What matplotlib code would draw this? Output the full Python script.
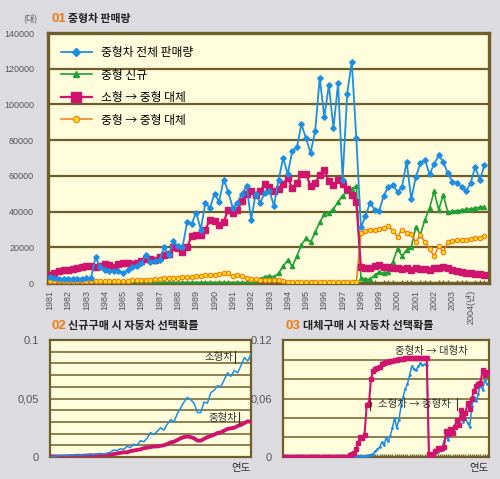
import matplotlib.pyplot as plt
import numpy as np

plt.rcParams['font.family'] = ['Noto Sans CJK KR', 'DejaVu Sans']

# 01 중형차 판매량 - quarterly, 1981 Q1 ~ 2004 Q4 (unit: 대)
total_sales = [
    3500, 2800, 2500, 2500, 2500, 2500, 2500, 2500, 3000, 3000, 14500, 9000,
    7500, 7000, 6500, 7000, 5500, 7500, 9000, 9500, 11000, 15500, 12000, 12500,
    13000, 20000, 15500, 23500, 20500, 20000, 34000, 33300, 39500, 30000, 45000, 42000,
    50000, 45500, 58000, 51000, 42000, 45000, 50000, 54500, 35500, 50000, 45000, 50700,
    51500, 43300, 57800, 70000, 61000, 74000, 76000, 89000, 81000, 73000, 85000, 115000,
    93000, 111000, 86600, 112000, 58000, 106000, 124000, 81000, 31300, 37400, 45000, 41000,
    40500, 49000, 54000, 55000, 51000, 54000, 68000, 47000, 59500, 67000, 69000, 61000,
    66500, 71500, 68000, 61500, 56700, 56000, 54000, 51300, 56300, 65000, 57600, 66000,
]
new_mid = [
    300, 300, 300, 300, 300, 300, 300, 300, 300, 300, 300, 300,
    300, 300, 300, 300, 300, 300, 300, 300, 300, 300, 300, 300,
    300, 300, 300, 300, 300, 300, 300, 300, 300, 300, 300, 300,
    300, 300, 300, 300, 300, 300, 300, 300, 300, 300, 2500, 3500,
    4000, 3500, 5500, 9500, 12800, 9500, 15000, 21500, 25000, 23000, 28500, 34000,
    38700, 39500, 41500, 45500, 49000, 51500, 52600, 54400, 3000, 2200, 2200, 4300,
    6300, 5400, 6300, 12000, 19300, 15000, 18600, 20000, 31300, 27200, 35500, 42000,
    51300, 41000, 49400, 39600, 40200, 40500, 40800, 41300, 41600, 42000, 42400, 42800,
]
small_to_mid = [
    4500, 5800, 6500, 7200, 7500, 7800, 8200, 8800, 9500, 9500, 8800, 9800,
    10500, 10000, 9000, 10500, 11000, 11500, 10500, 11000, 12500, 13500, 13500, 13000,
    14500, 16000, 16200, 20000, 19800, 17500, 20000, 26300, 27000, 27000, 30000, 35400,
    35000, 32800, 34300, 41000, 39300, 41000, 46000, 50000, 51300, 49500, 51300, 55700,
    54000, 51300, 52800, 55700, 58700, 53500, 56000, 61000, 61000, 54400, 56000, 60500,
    63300, 57000, 54800, 57500, 55700, 52600, 49400, 45200, 9000, 8600, 8600, 9600,
    10000, 9000, 8800, 8700, 8200, 7800, 8700, 7500, 8500, 8000, 7800, 7500,
    8500, 8500, 9000, 8200, 7200, 6800, 6300, 5900, 5400, 5300, 4900, 4600,
]
mid_to_mid = [
    1200, 1200, 1200, 1200, 1200, 1200, 1200, 1200, 1200, 1200, 1200, 1200,
    1200, 1200, 1200, 1200, 1300, 1300, 1800, 1800, 1800, 2000, 2000, 2200,
    2500, 2800, 2800, 3000, 3000, 3200, 3500, 3600, 4000, 4200, 4400, 4400,
    4500, 5000, 5400, 5500, 3800, 4500, 3800, 2800, 2200, 2200, 2000, 2000,
    1900, 1800, 1500, 1300, 800, 800, 800, 800, 800, 800, 800, 800,
    800, 800, 800, 800, 800, 800, 800, 800, 28000, 29400, 30000, 29800,
    30400, 31000, 31700, 29400, 26000, 30000, 28000, 27400, 23000, 26700, 23000, 19300,
    15000, 21000, 17400, 23000, 23500, 24000, 24200, 24400, 24800, 25000, 25200, 26300,
]
year_labels = [str(y) for y in range(1981, 2004)] + ['2004(년)']

# 02 신규구매 시 자동차 선택확률 (x 0.001)
new_small_p = [
    0, 0.5, 1, 1, 1.5, 1, 1.5, 1.5, 2, 1.5, 2, 2, 2.5, 2, 2.5, 3, 2.5, 3, 4, 6,
    5.5, 7, 6.5, 9, 8, 11, 10, 14, 13, 16, 21, 19, 22, 25, 23, 28, 32, 30, 37, 42,
    47, 51, 49, 46, 38, 38, 47, 46, 55, 57, 61, 60, 66, 72, 69, 74, 72, 78, 85, 82, 88,
]
new_mid_p = [
    0.5, 0.5, 0.5, 0.5, 0.5, 0.5, 0.7, 0.8, 1, 1, 1, 1.2, 1.2, 1.3, 1.5, 1.5, 1.5, 2, 2, 2.5,
    3, 3.5, 4, 4, 5, 5.5, 6, 6.5, 7.5, 8, 8.5, 9, 9, 9.5, 10, 11, 12.5, 13, 14.5, 16,
    17, 17.5, 17, 16, 14, 14, 15.5, 17, 18, 19, 20.5, 21, 22.5, 24, 24.5, 25, 26.5, 27.5, 29, 30.5, 30,
]

# 03 대체구매 시 자동차 선택확률 - quarterly (x 0.001)
rep_mid_large = [
    0, 0, 0, 0, 0, 0, 0, 0, 0, 0, 0, 0, 0, 0, 0, 0, 0, 0, 0, 0, 0, 0, 0, 0,
    0, 0, 0, 0, 0, 0, 0, 2, 3, 4, 8, 14, 21, 19, 23, 53, 54, 80, 88, 90, 91, 92, 95, 96,
    97, 98, 98.5, 99, 99.5, 100, 100.5, 101, 101, 101.5, 101.5, 101.5, 101.5, 101.5, 101.5, 101.5, 101.5, 101.5, 101.5, 101.5,
    3, 1, 3, 6, 9.6, 8, 9, 10, 27, 24, 29, 25, 31, 38, 33, 48, 40, 45, 55, 49, 60, 68, 73, 75, 76, 89, 84, 87,
]
rep_small_mid = [
    0, 0, 0, 0, 0, 0, 0, 0, 0, 0, 0, 0, 0, 0, 0, 0, 0, 0, 0, 0, 0, 0, 0, 0,
    0, 0, 0, 0, 0, 0, 0, 0, 0.3, 0.5, 0.5, 0.7, 0.8, 1, 1.2, 1.5, 1.7, 2.5, 3.4, 6, 8, 10, 15, 12,
    19, 16, 22, 30, 40, 30, 38, 52, 62, 70, 75, 84, 93, 90, 89, 93, 96, 94, 95, 94,
    2, 1.5, 2.5, 3.5, 5, 7, 9, 16, 21, 17, 24, 28, 31, 38, 33, 43, 36, 40, 35, 31, 52, 62, 57, 65, 74, 69, 79, 75,
]

BLUE = '#1C8FE3'
GREEN = '#1FA032'
MAGENTA = '#D0146E'
ORANGE = '#F27A12'
OLIVE = '#6E5E2C'
FACE = '#FFFDDC'
GRAY = '#555555'
NUM_FONT = ['Liberation Sans', 'Noto Sans CJK KR']

fig = plt.figure(figsize=(5.0, 4.79), dpi=100, facecolor='#DCDCE0')


def style_axes(ax, frame_lw, grid_lw):
    ax.set_facecolor(FACE)
    for s in ax.spines.values():
        s.set_color(OLIVE)
        s.set_linewidth(frame_lw)
    ax.yaxis.grid(True, color=OLIVE, linewidth=grid_lw)
    ax.set_axisbelow(True)
    ax.tick_params(which='major', length=0, colors=GRAY)
    ax.tick_params(which='minor', direction='in', length=2.5, color=OLIVE, width=1)


def num_font(ax):
    for t in ax.get_xticklabels() + ax.get_yticklabels():
        t.set_fontfamily(NUM_FONT)


def label(ax, x, y, text, bar_left=None, bar_right=None):
    ax.text(x, y, text, transform=ax.transAxes, ha='center', va='center',
            fontsize=7.5, color='#333333', zorder=6)
    # short leader bars beside the label
    for bx in (bar_left, bar_right):
        if bx is not None:
            ax.plot([bx, bx], [y - 0.05, y + 0.05], transform=ax.transAxes,
                    color='#333333', lw=0.8, zorder=6)


# ---- 01 ----
ax1 = fig.add_axes([0.096, 0.409, 0.882, 0.522])
style_axes(ax1, 2.4, 1.6)
quarters = 1981 + np.arange(len(total_sales)) / 4

ax1.plot(quarters, new_mid, color=GREEN, lw=1.2, marker='^', ms=3, zorder=3,
         label='중형 신규')
ax1.plot(quarters, mid_to_mid, color=ORANGE, lw=1.1, marker='o', ms=3.2,
         mfc='#FFE21A', mec=ORANGE, mew=0.8, zorder=3, label='중형 → 중형 대체')
ax1.plot(quarters, small_to_mid, color=MAGENTA, lw=1.6, marker='s', ms=5, zorder=4,
         label='소형 → 중형 대체')
ax1.plot(quarters, total_sales, color=BLUE, lw=1.3, marker='D', ms=2.8, zorder=5,
         label='중형차 전체 판매량')

ax1.set_xlim(1980.9, 2005.0)
ax1.set_ylim(0, 140000)
ax1.set_yticks(np.arange(0, 140001, 20000))
ax1.set_xticks(np.arange(1981, 2005))
ax1.set_xticklabels(year_labels, rotation=90, fontsize=6.5)
ax1.set_xticks(quarters, minor=True)
ax1.tick_params(axis='y', labelsize=6.5, pad=10)
ax1.tick_params(axis='x', pad=5)
num_font(ax1)

h, l = ax1.get_legend_handles_labels()
order = [3, 0, 2, 1]
ax1.legend([h[i] for i in order], [l[i] for i in order], loc='upper left',
           bbox_to_anchor=(0.005, 0.99), frameon=False, fontsize=8.5,
           handlelength=2.6, labelspacing=0.8, markerscale=1.4)

fig.text(23 / 500, 1 - 18 / 479, '(대)', fontsize=6.5, color=GRAY, va='center')
fig.text(51 / 500, 1 - 19 / 479, '01', fontsize=9.5, color='#F07A10', fontweight='bold',
         va='center', family='Liberation Sans')
fig.text(68 / 500, 1 - 19 / 479, '중형차 판매량', fontsize=7.8, fontweight='bold',
         color='#222222', va='center')

# ---- 02 ----
ax2 = fig.add_axes([0.100, 0.046, 0.402, 0.244])
style_axes(ax2, 1.6, 1.1)
idx2 = np.arange(len(new_small_p))
ax2.plot(idx2, np.array(new_small_p) / 1000, color=BLUE, lw=1.1, zorder=4)
ax2.plot(idx2, np.array(new_mid_p) / 1000, color=MAGENTA, lw=2.8, zorder=3)
ax2.set_xlim(0, len(new_small_p) - 1)
ax2.set_ylim(0, 0.1)
ax2.set_yticks(np.arange(0, 0.1001, 0.01))
ax2.set_yticklabels(['0', '', '', '', '', '0,05', '', '', '', '', '0.1'], fontsize=8)
ax2.set_xticks([])
ax2.tick_params(axis='y', pad=8)
num_font(ax2)
label(ax2, 0.84, 0.855, '소형차', bar_right=0.92)
label(ax2, 0.86, 0.335, '중형차', bar_right=0.94)
ax2.text(1.0, -0.05, '연도', transform=ax2.transAxes, ha='right', va='top',
         fontsize=7.5, color='#333333')

fig.text(51 / 500, 1 - 326 / 479, '02', fontsize=9.5, color='#F07A10', fontweight='bold',
         va='center', family='Liberation Sans')
fig.text(68 / 500, 1 - 326 / 479, '신규구매 시 자동차 선택확률', fontsize=8,
         fontweight='bold', color='#222222', va='center')

# ---- 03 ----
ax3 = fig.add_axes([0.566, 0.046, 0.412, 0.244])
style_axes(ax3, 1.6, 1.1)
q3 = 1981 + np.arange(len(rep_mid_large)) / 4
ax3.plot(q3, np.array(rep_small_mid) / 1000, color=BLUE, lw=1.1, marker='.', ms=2,
         zorder=3)
ax3.plot(q3, np.array(rep_mid_large) / 1000, color=MAGENTA, lw=1.5, marker='s', ms=3,
         zorder=4)
ax3.set_xlim(1981, 2005)
ax3.set_ylim(0, 0.12)
ax3.set_yticks(np.arange(0, 0.1201, 0.02))
ax3.set_yticklabels(['0', '', '', '0,06', '', '', '0.12'], fontsize=8)
ax3.set_xticks([])
ax3.set_xticks(q3, minor=True)
ax3.tick_params(axis='y', pad=8)
num_font(ax3)
label(ax3, 0.72, 0.906, '중형차 → 대형차')
label(ax3, 0.636, 0.453, '소형차 → 중형차', bar_left=0.42, bar_right=0.845)
ax3.text(1.0, -0.05, '연도', transform=ax3.transAxes, ha='right', va='top',
         fontsize=7.5, color='#333333')

fig.text(286 / 500, 1 - 326 / 479, '03', fontsize=9.5, color='#F07A10', fontweight='bold',
         va='center', family='Liberation Sans')
fig.text(303 / 500, 1 - 326 / 479, '대체구매 시 자동차 선택확률', fontsize=8,
         fontweight='bold', color='#222222', va='center')

fig.savefig('out.png', dpi=100, facecolor=fig.get_facecolor())
